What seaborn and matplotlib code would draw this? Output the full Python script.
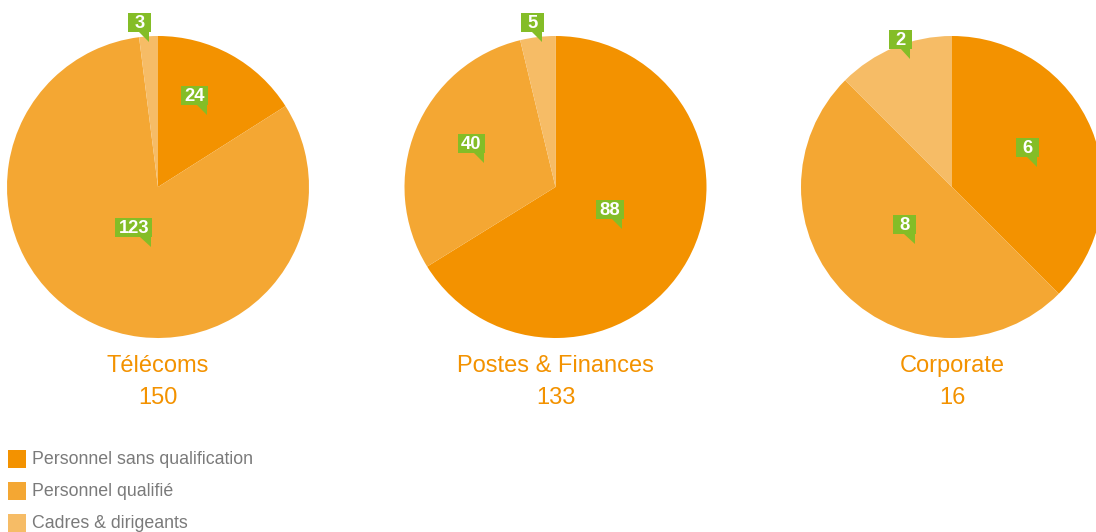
import matplotlib
matplotlib.use("Agg")
import matplotlib.pyplot as plt
from matplotlib.patches import Rectangle, Polygon
import seaborn as sns

# ---- data ----
groups = ["Télécoms", "Postes & Finances", "Corporate"]
totals = ["150", "133", "16"]
categories = ["Personnel sans qualification", "Personnel qualifié", "Cadres & dirigeants"]
telecoms = [24, 123, 3]
postes = [88, 40, 5]
corporate = [6, 8, 2]
series = [telecoms, postes, corporate]

# ---- layout (pixels) ----
W, H = 1096, 532
centers_x = [158, 555.5, 952]
center_y = 187
R = 151
# callout tip offsets, in units of radius (x right, y down)
tip_offsets = [
    [(0.32, -0.48), (-0.05, 0.40), (-0.06, -0.96)],
    [(0.44, 0.28), (-0.48, -0.16), (-0.09, -0.96)],
    [(0.56, -0.13), (-0.25, 0.38), (-0.28, -0.85)],
]

sns.set_theme(style="white")
plt.rcParams["font.family"] = ["Liberation Sans", "DejaVu Sans"]

colors = sns.color_palette(["#F39200", "#F4A733", "#F6BC66"])
green = "#84BD27"
orange_text = "#F39200"
grey_text = "#7A7A7A"

fig = plt.figure(figsize=(W / 100, H / 100), dpi=100)
ax = fig.add_axes([0, 0, 1, 1])

def Y(y):
    return H - y

for cx, vals in zip(centers_x, series):
    ax.pie(vals, colors=colors, startangle=90, counterclock=False,
           center=(cx, Y(center_y)), radius=R,
           wedgeprops=dict(linewidth=0), frame=True)

ax.set_xlim(0, W)
ax.set_ylim(0, H)
ax.set_aspect("equal")
ax.axis("off")

for cx, name, tot in zip(centers_x, groups, totals):
    ax.text(cx, Y(372), name, ha="center", va="baseline", fontsize=17, color=orange_text)
    ax.text(cx, Y(404), tot, ha="center", va="baseline", fontsize=17, color=orange_text)

fig.canvas.draw()
renderer = fig.canvas.get_renderer()

for cx, vals, offs in zip(centers_x, series, tip_offsets):
    for v, (ox, oy) in zip(vals, offs):
        tx = cx + ox * R
        ty = center_y + oy * R
        box_bottom = ty - 10
        box_right = tx + 2
        t = ax.text(0, 0, str(v), ha="center", va="baseline", fontsize=13.2,
                    fontweight="bold", color="white", zorder=5)
        bb = t.get_window_extent(renderer)
        tw = bb.width
        bw = max(23, tw + 7)
        bh = 19
        left = box_right - bw
        ax.add_patch(Rectangle((left, Y(box_bottom)), bw, bh, facecolor=green,
                               edgecolor="none", zorder=4))
        ax.add_patch(Polygon([(box_right - 12, Y(box_bottom) + 0.5), (box_right - 1.5, Y(box_bottom) + 0.5),
                              (box_right - 1.5, Y(ty))], closed=True,
                             facecolor=green, edgecolor="none", zorder=4))
        t.set_position((left + bw / 2, Y(box_bottom - 4)))

# legend
leg_y = [459, 491, 523]
for ly, c, lab in zip(leg_y, colors, categories):
    ax.add_patch(Rectangle((8, Y(ly + 9)), 18, 18, facecolor=c, edgecolor="none"))
    ax.text(32, Y(ly + 5.5), lab, ha="left", va="baseline", fontsize=12.8, color=grey_text)

fig.savefig("out.png", dpi=100)
